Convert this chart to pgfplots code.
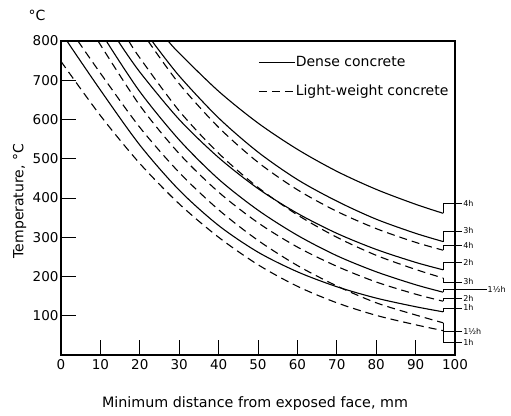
\documentclass[border=0pt]{standalone}
\usepackage{pgfplots}
\pgfplotsset{compat=1.18}
\usepackage{fontspec}
\setmainfont{DejaVu Sans}
\newcommand{\hl}[4][101.8]{\draw[line width=0.8bp] (axis cs:97,#2) -- (axis cs:97,#3) -- (axis cs:#1,#3) node[right, inner sep=0.8bp, font=\fontsize{8bp}{9bp}\selectfont] {#4};}
\begin{document}
\begin{tikzpicture}[font=\fontsize{14bp}{16bp}\selectfont]
\begin{axis}[
  scale only axis, width=394bp, height=314bp,
  xmin=0, xmax=100, ymin=0, ymax=800,
  xtick={0,10,...,100}, ytick={100,200,...,800},
  tick pos=left, tick align=inside, major tick length=15bp,
  tick style={line width=1bp, black},
  axis line style={line width=1.3bp},
  /pgf/number format/assume math mode=true,
  ticklabel style={font=\fontsize{13.5bp}{15bp}\selectfont},
  xticklabel style={yshift=-1bp},
  yticklabel style={xshift=1bp},
  clip=false,
  xlabel={Minimum distance from exposed face, mm},
  xlabel style={at={(axis description cs:0.5,0)}, anchor=center, yshift=-49bp, xshift=-3bp, font=\fontsize{14.3bp}{16bp}\selectfont},
  ylabel={Temperature, °C},
  ylabel style={at={(axis description cs:-0.105,0.49)}, anchor=center},
  legend style={draw=none, fill=none, at={(rel axis cs:0.5,0.952)}, anchor=north west,
     row sep=16bp, column sep=0bp, inner sep=0pt, font=\fontsize{14bp}{16bp}\selectfont,
     nodes={inner xsep=0.5bp, inner ysep=0bp, text height=10bp, text depth=3bp}},
  legend cell align=left,
  legend image code/.code={\draw[#1] (0bp,0bp) -- (36bp,0bp);},
  dn/.style={black, solid, no markers, line width=1.1bp, smooth, tension=0.5},
  lw/.style={black, no markers, line width=1.1bp, smooth, tension=0.5, dash pattern=on 8bp off 5bp},
]
% 4h dense
\addplot[dn] coordinates {(27.2,800) (30,769) (40,672) (50,591) (60,524) (70,468) (80,422) (90,384) (97,361)};
\addlegendentry{Dense concrete}
% 4h light-weight
\addplot[lw] coordinates {(22.1,800) (30,691) (40,580) (50,491) (60,421) (70,366) (80,322) (90,287) (97,267)};
\addlegendentry{Light-weight concrete}
% 3h dense
\addplot[dn] coordinates {(23.1,800) (30,711) (40,604) (50,517) (60,447) (70,392) (80,346) (90,310) (97,289)};
% 2h dense
\addplot[dn] coordinates {(14.5,800) (20,721) (30,600) (40,503) (50,424) (60,361) (70,310) (80,269) (90,236) (97,217)};
% 3h light-weight
\addplot[lw] coordinates {(17.2,800) (20,757) (30,622) (40,514) (50,427) (60,357) (70,300) (80,254) (90,218) (97,196)};
% 1.5h dense
\addplot[dn] coordinates {(11.5,800) (20,671) (30,548) (40,448) (50,369) (60,305) (70,253) (80,212) (90,179) (97,160)};
% 2h light-weight
\addplot[lw] coordinates {(9.4,800) (20,636) (30,513) (40,415) (50,337) (60,275) (70,226) (80,186) (90,155) (97,137)};
% 1h dense
\addplot[dn] coordinates {(1.5,800) (10,675) (20,535) (30,420) (40,330) (50,262) (60,212) (70,174) (80,145) (90,123) (97,110)};
% 1.5h light-weight
\addplot[lw] coordinates {(4.3,800) (10,718) (20,580) (30,465) (40,370) (50,292) (60,228) (70,176) (80,133) (90,102) (97,82)};
% 1h light-weight
\addplot[lw] coordinates {(0,748) (10,610) (20,488) (30,385) (40,300) (50,230) (60,175) (70,133) (80,101) (90,77) (97,62)};
% end labels
\hl{361}{385}{4h}
\hl{289}{316}{3h}
\hl{267}{278}{4h}
\hl{217}{237}{2h}
\hl{196}{186}{3h}
\hl[108]{160}{168}{1½h}
\hl{137}{145}{2h}
\hl{110}{120}{1h}
\hl{82}{59}{1½h}
\hl{62}{31}{1h}
\coordinate (bl) at (rel axis cs:0,0);
\coordinate (tl) at (rel axis cs:0,1);
\end{axis}
\node[anchor=center] at ([xshift=-24bp, yshift=26bp]tl) {°C};
\pgfresetboundingbox
\path[shift={(bl)}] (-61bp,-61bp) rectangle (450bp,355bp);
\end{tikzpicture}
\end{document}
